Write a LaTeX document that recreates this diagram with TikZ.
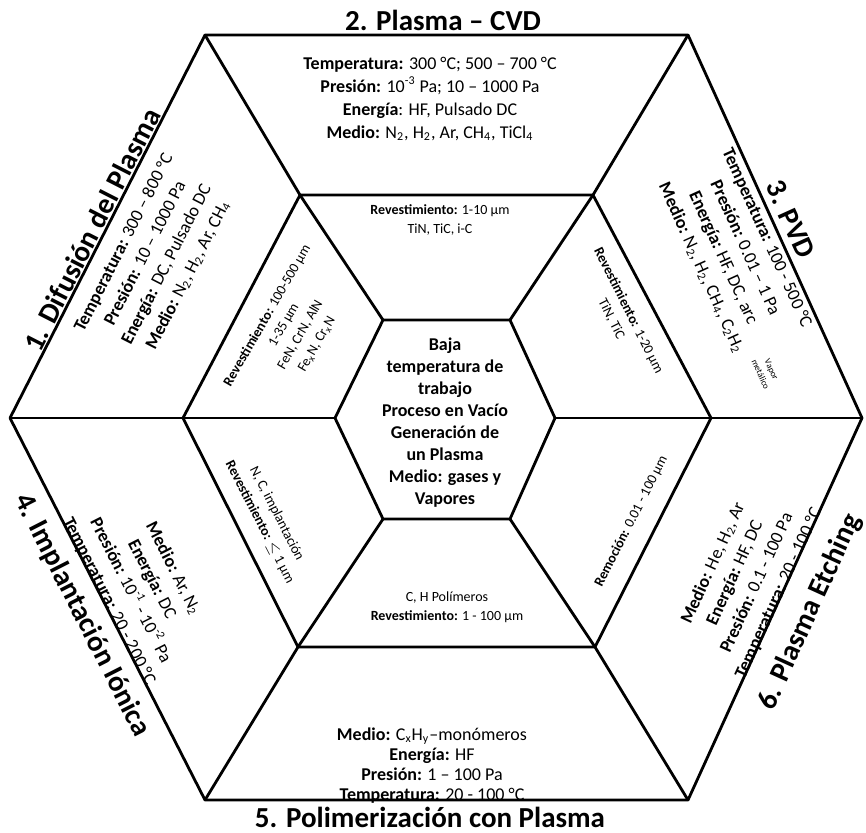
\documentclass[tikz,border=0pt]{standalone}
\usepackage{fontspec}
\setmainfont{Carlito}
\usetikzlibrary{positioning}

\begin{document}
\begin{tikzpicture}[x=0.5pt, y=-0.5pt]

  \tikzstyle{edge}=[line width=1.4pt, line join=round]
  \tikzstyle{title}=[font=\fontsize{14.5}{16}\selectfont\bfseries, inner sep=0pt]
  \tikzstyle{sector}=[align=center, font=\fontsize{9}{12}\selectfont, inner sep=0pt]
  \tikzstyle{layer}=[align=center, font=\fontsize{7}{9.5}\selectfont, inner sep=0pt]
  \tikzstyle{core}=[align=center, font=\fontsize{9}{11}\selectfont\bfseries, inner sep=0pt]

  \useasboundingbox (0,0) rectangle (866,832);

  % corners: 1 top left, 2 top right, 3 right, 4 bottom right, 5 bottom left, 6 left
  \coordinate (o-1) at (205,35);  \coordinate (o-2) at (688,35);
  \coordinate (o-3) at (862,418); \coordinate (o-4) at (688,800);
  \coordinate (o-5) at (205,800); \coordinate (o-6) at (10,418);

  \coordinate (m-1) at (300,195); \coordinate (m-2) at (593,195);
  \coordinate (m-3) at (711,418); \coordinate (m-4) at (595,647);
  \coordinate (m-5) at (298,647); \coordinate (m-6) at (183,418);

  \coordinate (i-1) at (383,320); \coordinate (i-2) at (510,320);
  \coordinate (i-3) at (555,418); \coordinate (i-4) at (510,519);
  \coordinate (i-5) at (383,519); \coordinate (i-6) at (335,418);

  \foreach \r in {o,m,i} {
    \draw [edge] (\r-1) -- (\r-2) -- (\r-3) -- (\r-4) -- (\r-5) -- (\r-6) -- cycle;
  }
  \foreach \k in {1,...,6} {
    \draw [edge] (o-\k) -- (m-\k) -- (i-\k);
  }

  % titles
  \node [title, anchor=base, rotate=63] (t-difusion) at (101,234) {1. Difusión del Plasma};
  \node [title, anchor=base] (t-cvd) at (443,30) {2. Plasma – CVD};
  \node [title, anchor=base, rotate=-65.6] (t-pvd) at (782,223) {3. PVD};
  \node [title, rotate=-63] (t-implant) at (82,615) {4. Implantación Iónica};
  \node [title, anchor=base] (t-polim) at (430,827) {5. Polimerización con Plasma};
  \node [title, rotate=65.5] (t-etching) at (810,612) {6. Plasma Etching};

  % outer sectors
  \node [sector, rotate=63] (s-difusion) at (156,259) {
    \textbf{Temperatura:} 300 – 800 °C \\
    \textbf{Presión:} 10 – 1000 Pa \\
    \textbf{Energía:} DC, Pulsado DC \\
    \textbf{Medio:} N\textsubscript{2}, H\textsubscript{2}, Ar, CH\textsubscript{4}
  };
  \node [sector, font=\fontsize{9}{11.5}\selectfont] (s-cvd) at (430,99) {
    \textbf{Temperatura:} 300 °C; 500 – 700 °C \\
    \textbf{Presión:} 10\textsuperscript{-3} Pa; 10 – 1000 Pa \\
    \textbf{Energía}: HF, Pulsado DC \\
    \textbf{Medio:} N\textsubscript{2}, H\textsubscript{2}, Ar, CH\textsubscript{4}, TiCl\textsubscript{4}
  };
  \node [sector, rotate=-65.6] (s-pvd) at (734,253) {
    \textbf{Temperatura:} 100 - 500 °C \\
    \textbf{Presión:} 0.01 – 1 Pa \\
    \textbf{Energía:} HF, DC, arc \\
    \textbf{Medio:} N\textsubscript{2}, H\textsubscript{2}, CH\textsubscript{4}, C\textsubscript{2}H\textsubscript{2}
  };
  \node [layer, font=\fontsize{4.5}{6}\selectfont, rotate=-65.6] (s-vapor) at (766,372) {Vapor\\metálico};
  \node [sector, rotate=-63] (s-implant) at (141,585) {
    \textbf{Medio:} Ar, N\textsubscript{2} \\
    \textbf{Energía:} DC \\
    \textbf{Presión:} 10\textsuperscript{-1} - 10\textsuperscript{-2} Pa \\
    \textbf{Temperatura:} 20 - 200 °C
  };
  \node [sector, font=\fontsize{9}{10}\selectfont] (s-polim) at (432,766) {
    \textbf{Medio:} C\textsubscript{x}H\textsubscript{y}–monómeros \\
    \textbf{Energía:} HF \\
    \textbf{Presión:} 1 – 100 Pa \\
    \textbf{Temperatura:} 20 - 100 °C
  };
  \node [sector, rotate=65.5] (s-etching) at (746,578) {
    \textbf{Medio:} He, H\textsubscript{2}, Ar \\
    \textbf{Energía:} HF, DC \\
    \textbf{Presión:} 0.1 - 100 Pa \\
    \textbf{Temperatura:} 20 - 100 °C
  };

  % middle ring
  \node [layer] (l-cvd) at (440,220) {
    \textbf{Revestimiento:} 1-10 µm \\ TiN, TiC, i-C
  };
  \node [layer, rotate=60] (l-difusion) at (292,330) {
    \textbf{Revestimiento:} 100-500 µm \\ 1-35 µm \\ FeN, CrN, AlN \\ Fe\textsubscript{x}N, Cr\textsubscript{x}N
  };
  \node [layer, rotate=-63.4] (l-pvd) at (620,315) {
    \textbf{Revestimiento:} 1-20 µm \\ TiN, TiC
  };
  \node [layer, rotate=-63] (l-implant) at (268,518) {
    N, C, implantación \\ \textbf{Revestimiento:} $\leq$ 1 µm
  };
  \node [layer, rotate=63] (l-etching) at (632,520) {
    \textbf{Remoción:} 0.01 - 100 µm
  };
  \node [layer] (l-polim) at (447,607) {
    C, H Polímeros \\ \textbf{Revestimiento:} 1 - 100 µm
  };

  % center
  \node [core] (center) at (445,423) {
    Baja \\ temperatura de \\ trabajo \\ Proceso en Vacío \\ Generación de \\ un Plasma \\ Medio: gases y \\ Vapores
  };

\end{tikzpicture}
\end{document}
